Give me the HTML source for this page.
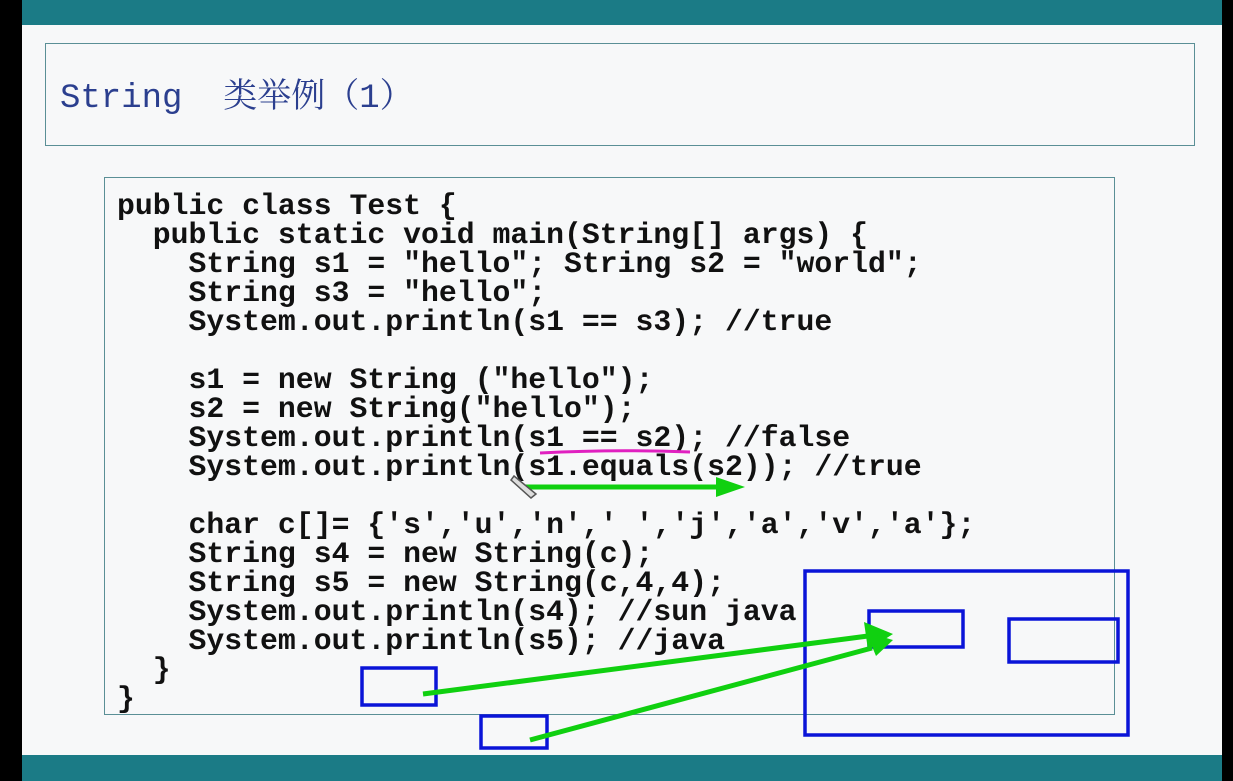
<!DOCTYPE html>
<html><head><meta charset="utf-8"><style>
body{margin:0;width:1233px;height:781px;overflow:hidden;background:#000;position:relative}
.bg{position:absolute;left:22px;top:0;width:1200px;height:781px;background:#f7f8f9}
.top{position:absolute;left:22px;top:0;width:1200px;height:25px;background:#1b7b86}
.bot{position:absolute;left:22px;top:755px;width:1200px;height:26px;background:#1b7b86}
.title{position:absolute;left:45px;top:43px;width:1150px;height:103px;border:1.5px solid #5a8f96;box-sizing:border-box}
.title span{position:absolute;left:14px;top:35px;font:34px/40px "Liberation Mono","Noto Serif CJK SC",monospace;color:#2b3f8f;white-space:pre}
.code{position:absolute;left:104px;top:177px;width:1011px;height:538px;border:1.5px solid #5a8f96;box-sizing:border-box}
pre{position:absolute;left:117px;top:192px;margin:0;font:bold 29.8px/29px "Liberation Mono",monospace;color:#111}
svg{position:absolute;left:0;top:0}
</style></head><body>
<div class="bg"></div><div class="top"></div><div class="bot"></div>
<div class="title"><span>String  类举例（1）</span></div>
<div class="code"></div>
<pre>public class Test {
  public static void main(String[] args) {
    String s1 = "hello"; String s2 = "world";
    String s3 = "hello";
    System.out.println(s1 == s3); //true

    s1 = new String ("hello");
    s2 = new String("hello");
    System.out.println(s1 == s2); //false
    System.out.println(s1.equals(s2)); //true

    char c[]= {'s','u','n',' ','j','a','v','a'};
    String s4 = new String(c);
    String s5 = new String(c,4,4);
    System.out.println(s4); //sun java
    System.out.println(s5); //java
  }
}</pre>
<svg width="1233" height="781">
<path d="M540 453 Q615 449 690 452" stroke="#e020c0" stroke-width="3" fill="none"/>
<line x1="520" y1="487" x2="718" y2="487" stroke="#10d010" stroke-width="5"/>
<polygon points="745,487 716,477 716,497" fill="#10d010"/>
<path d="M514 476 L536 494 L531 498 L511 480Z" fill="#ddd" stroke="#555" stroke-width="1.5"/>
<g fill="none" stroke="#0a14d8" stroke-width="3.5">
<rect x="805" y="571" width="323" height="164"/>
<rect x="869" y="611" width="94" height="36"/>
<rect x="1009" y="619" width="109" height="43"/>
<rect x="362" y="668" width="74" height="37"/>
<rect x="481" y="716" width="66" height="32"/>
</g>
<g stroke="#10d010" stroke-width="5">
<line x1="423" y1="694" x2="868" y2="636"/>
<line x1="530" y1="740" x2="872" y2="648"/>
</g>
<polygon points="893,634 864,622 868,650" fill="#10d010"/>
<polygon points="893,640 866,632 876,656" fill="#10d010"/>
</svg>
</body></html>
